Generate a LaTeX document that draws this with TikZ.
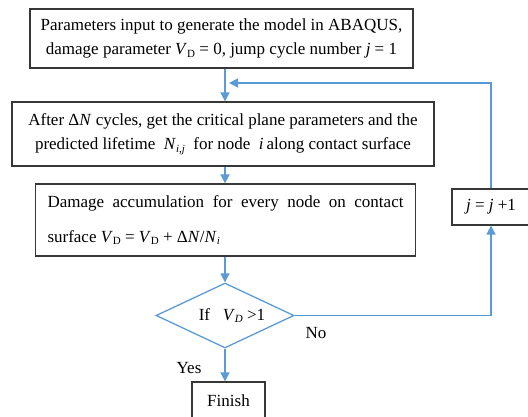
\documentclass[tikz,border=0pt]{standalone}
\usepackage{fontspec}
\setmainfont{Liberation Serif}
\usetikzlibrary{shapes.geometric,arrows.meta}
\definecolor{flowblue}{RGB}{91,155,213}
\definecolor{boxgray}{RGB}{55,55,55}
% italic symbol with optional subscript, set in the text font
\newcommand{\sym}[1]{\textit{#1}}
\newcommand{\sub}[1]{\raisebox{-0.35ex}{\fontsize{11}{11}\selectfont #1}}
\tikzset{
  procbox/.style={draw=boxgray, line width=1.2pt, inner sep=0pt, font=\fontsize{17}{24}\selectfont},
  decision/.style={diamond, draw=flowblue, line width=1.3pt, inner sep=0pt, aspect=2.1, font=\fontsize{17}{20}\selectfont},
  flow/.style={draw=flowblue, line width=1.5pt, -{Triangle[length=9pt,width=9pt]}},
  lbl/.style={font=\fontsize{17}{20}\selectfont, inner sep=0pt}
}
\begin{document}
\begin{tikzpicture}[x=1pt,y=-1pt]
\useasboundingbox (0,0) rectangle (528,417);
\begin{scope}
\clip (0,0) rectangle (528,417);
% process boxes
\node[procbox, minimum width=383pt, minimum height=59pt, align=center] (b1) at (221.5,38.5)
  {Parameters input to generate the model in ABAQUS,\\damage parameter \sym{V}\sub{D} = 0, jump cycle number \sym{j} = 1};
\node[procbox, minimum width=422pt, minimum height=64pt, align=center] (b2) at (223,134)
  {After Δ\sym{N} cycles, get the critical plane parameters and the\\predicted lifetime\ \ \sym{N}\sub{\itshape i,j}\ \ for node\ \ \sym{i}\,along contact surface};
\node[procbox, minimum width=380pt, minimum height=72pt] (b3) at (225.5,220)
  {\parbox{356pt}{\fontsize{17}{35}\selectfont\hbadness=10000
   Damage accumulation for every node on contact\linebreak
   surface \sym{V}\sub{D} = \sym{V}\sub{D} + Δ\sym{N}/\sym{N}\sub{\itshape i}}};
\node[procbox, minimum width=78pt, minimum height=36pt] (b4) at (491,207)
  {\sym{j} = \sym{j} +1};
\node[decision, minimum width=138pt, minimum height=65pt] (d) at (225,315.5)
  {\hspace{14pt}If\ \ \ \sym{V}\sub{\itshape D} >1};
\node[procbox, minimum width=73pt, minimum height=38pt] (fin) at (228.5,401)
  {Finish};
\end{scope}
% connectors
\coordinate (fb) at (229,83);
\draw[flow] (d.north |- b1.south) -- (d.north |- b2.north);
\draw[flow] (d.north |- b2.south) -- (d.north |- b3.north);
\draw[flow] (d.north |- b3.south) -- (d.north);
\draw[flow] (d.south) -- (d.south |- fin.north);
\draw[flow] (d.east) -| (b4.south);
\draw[flow] (b4.north) |- (fb);
% branch labels
\node[lbl] (no) at (316,333) {No};
\node[lbl] (yes) at (189,368) {Yes};
\end{tikzpicture}
\end{document}
